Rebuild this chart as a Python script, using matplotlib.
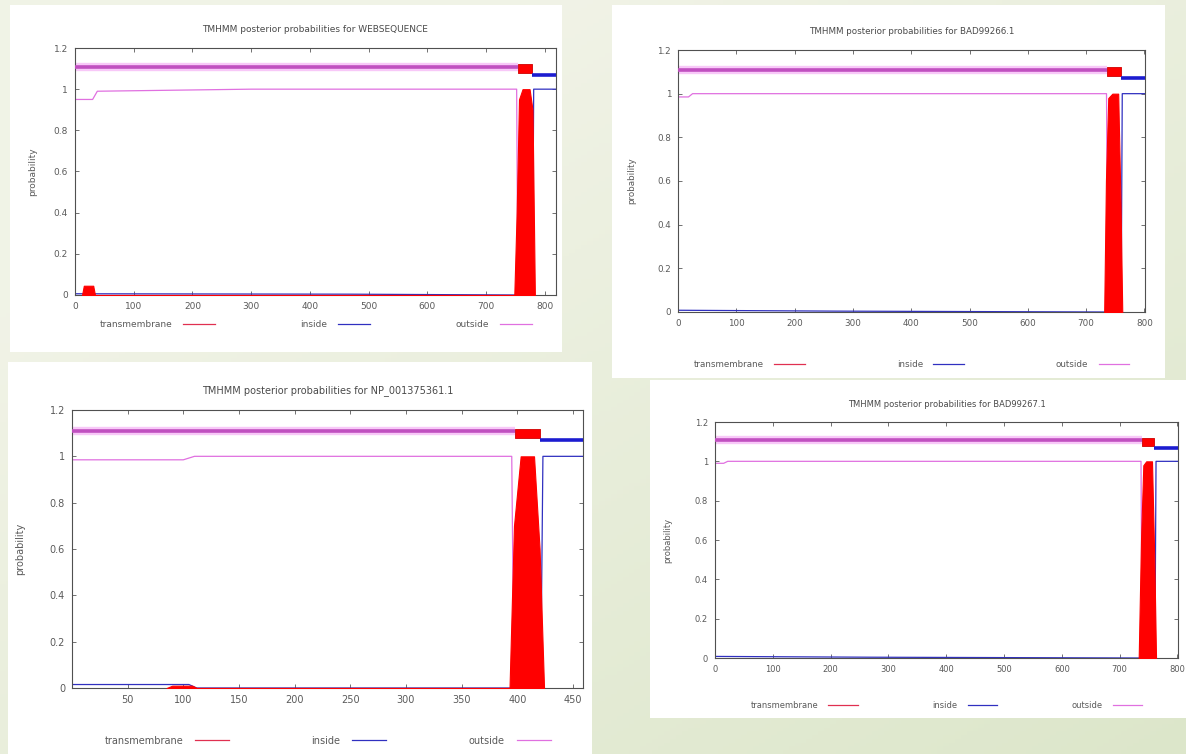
import numpy as np
import matplotlib
matplotlib.use("Agg")
import matplotlib.pyplot as plt
from matplotlib.lines import Line2D
from matplotlib.patches import Rectangle
from matplotlib.ticker import FuncFormatter

# ---- data ----
p1_title = "TMHMM posterior probabilities for WEBSEQUENCE"
p1_len = 819
p1_xticks = [0, 100, 200, 300, 400, 500, 600, 700, 800]
p1_out_x = [1, 30, 38, 300, 752, 754]
p1_out_y = [0.95, 0.95, 0.99, 1.0, 1.0, 0.0]
p1_in_x = [1, 470, 750, 779, 781, 819]
p1_in_y = [0.006, 0.004, 0.0, 0.0, 1.0, 1.0]
p1_tm_x = [12, 15, 31, 34, 748, 752, 756, 762, 774, 779, 783]
p1_tm_y = [0.0, 0.045, 0.045, 0.0, 0.0, 0.4, 0.95, 1.0, 1.0, 0.9, 0.0]
p1_topo = [754, 778]          # outside | TM | inside borders

p2_title = "TMHMM posterior probabilities for BAD99266.1"
p2_len = 801
p2_xticks = [0, 100, 200, 300, 400, 500, 600, 700, 800]
p2_out_x = [1, 18, 25, 735, 737]
p2_out_y = [0.985, 0.985, 1.0, 1.0, 0.0]
p2_in_x = [1, 270, 735, 760, 762, 801]
p2_in_y = [0.008, 0.004, 0.0, 0.0, 1.0, 1.0]
p2_tm_x = [731, 734, 738, 745, 755, 759, 762]
p2_tm_y = [0.0, 0.6, 0.98, 1.0, 1.0, 0.5, 0.0]
p2_topo = [736, 759]

p3_title = "TMHMM posterior probabilities for NP_001375361.1"
p3_len = 459
p3_xticks = [50, 100, 150, 200, 250, 300, 350, 400, 450]
p3_out_x = [1, 100, 110, 395, 397]
p3_out_y = [0.985, 0.985, 1.0, 1.0, 0.0]
p3_in_x = [1, 105, 112, 395, 421, 423, 459]
p3_in_y = [0.015, 0.015, 0.0, 0.0, 0.0, 1.0, 1.0]
p3_tm_x = [85, 90, 108, 112, 393, 397, 403, 415, 420, 424]
p3_tm_y = [0.0, 0.01, 0.01, 0.0, 0.0, 0.7, 1.0, 1.0, 0.6, 0.0]
p3_topo = [398, 420]

p4_title = "TMHMM posterior probabilities for BAD99267.1"
p4_len = 801
p4_xticks = [0, 100, 200, 300, 400, 500, 600, 700, 800]
p4_out_x = [1, 15, 22, 737, 739]
p4_out_y = [0.99, 0.99, 1.0, 1.0, 0.0]
p4_in_x = [1, 270, 737, 761, 763, 801]
p4_in_y = [0.008, 0.004, 0.0, 0.0, 1.0, 1.0]
p4_tm_x = [733, 737, 741, 746, 756, 760, 763]
p4_tm_y = [0.0, 0.6, 0.98, 1.0, 1.0, 0.5, 0.0]
p4_topo = [738, 760]

yticks = [0, 0.2, 0.4, 0.6, 0.8, 1.0, 1.2]

W, H = 1186, 754
fig = plt.figure(figsize=(W / 100, H / 100), dpi=100)

# slide background, pale green gradient
bg = fig.add_axes([0, 0, 1, 1], zorder=-10)
gx, gy = np.meshgrid(np.linspace(0, 1, 200), np.linspace(0, 1, 200))
t = np.clip(0.55 * gx + 0.6 * gy - 0.25, 0, 1)
c0 = np.array([0.945, 0.953, 0.905])
c1 = np.array([0.855, 0.898, 0.780])
img = c0 + (c1 - c0) * t[..., None]
bg.imshow(img, extent=[0, 1, 0, 1], origin="upper", aspect="auto")
bg.axis("off")


def px_rect(x0, y0, x1, y1):
    # pixel box (top-left origin) -> figure fraction rect
    return [x0 / W, 1 - y1 / H, (x1 - x0) / W, (y1 - y0) / H]


def white_box(x0, y0, x1, y1):
    r = px_rect(x0, y0, x1, y1)
    fig.patches.append(Rectangle((r[0], r[1]), r[2], r[3], transform=fig.transFigure,
                                 facecolor="white", edgecolor="none", zorder=-5))


white_box(10, 5, 562, 352)
white_box(612, 5, 1165, 378)
white_box(8, 362, 592, 754)
white_box(650, 380, 1186, 718)

gray = "#5a5a5a"


def panel(rect, title, length, xticks, ox, oy, ix, iy, tx, ty, topo, fs, leg_y, colsp, lpad):
    ax = fig.add_axes(px_rect(*rect))
    ax.set_xlim(0, length)
    ax.set_ylim(0, 1.2)
    # posterior curves
    ax.fill_between(tx, 0, ty, color="#ff0000", lw=0.8, edgecolor="#ff0000", zorder=3)
    ax.plot(ix, iy, color="#3030c0", lw=0.9, zorder=2)
    ax.plot(ox, oy, color="#e070e0", lw=0.9, zorder=2)
    # topology bar on top
    ax.plot([0, topo[0]], [1.11, 1.11], color="#f8c8f8", lw=6, solid_capstyle="butt", zorder=2)
    ax.plot([0, topo[0]], [1.11, 1.11], color="#c050c0", lw=2.6, solid_capstyle="butt", zorder=3)
    ax.fill_between(topo, 1.08, 1.12, color="#ff0000", edgecolor="#d00000", lw=0.6, zorder=3)
    ax.plot([topo[1], length], [1.07, 1.07], color="#1c1cd0", lw=2.6, solid_capstyle="butt", zorder=3)

    ax.set_xticks(xticks)
    ax.set_yticks(yticks)
    ax.yaxis.set_major_formatter(FuncFormatter(lambda v, p: "%g" % v))
    ax.tick_params(direction="in", top=True, right=True, length=3, width=0.6,
                   colors=gray, labelsize=fs, pad=5)
    for s in ax.spines.values():
        s.set_color("#505050")
        s.set_linewidth(0.8)
    ax.set_title(title, fontsize=fs, color="#4a4a4a", pad=fs + 5)
    ax.set_ylabel("probability", fontsize=fs, color=gray, labelpad=lpad)

    handles = [Line2D([], [], color="#e03050", lw=0.9),
               Line2D([], [], color="#3030c0", lw=0.9),
               Line2D([], [], color="#e070e0", lw=0.9)]
    ax.legend(handles, ["transmembrane", "inside", "outside"], ncol=3, markerfirst=False,
              frameon=False, loc="center", bbox_to_anchor=(0.5, leg_y), fontsize=fs,
              labelcolor=gray, handlelength=3.5, handletextpad=1.2, columnspacing=colsp)
    return ax


panel((75, 48, 556, 295), p1_title, p1_len, p1_xticks, p1_out_x, p1_out_y,
      p1_in_x, p1_in_y, p1_tm_x, p1_tm_y, p1_topo, 6.5, -0.12, 9.5, 12)
panel((678, 50, 1145, 312), p2_title, p2_len, p2_xticks, p2_out_x, p2_out_y,
      p2_in_x, p2_in_y, p2_tm_x, p2_tm_y, p2_topo, 6.3, -0.2, 10.5, 15)
panel((72, 410, 583, 688), p3_title, p3_len, p3_xticks, p3_out_x, p3_out_y,
      p3_in_x, p3_in_y, p3_tm_x, p3_tm_y, p3_topo, 7.0, -0.19, 8.5, 18)
panel((715, 422, 1178, 658), p4_title, p4_len, p4_xticks, p4_out_x, p4_out_y,
      p4_in_x, p4_in_y, p4_tm_x, p4_tm_y, p4_topo, 6.0, -0.2, 9.0, 16)

fig.savefig("out.png", dpi=100)
